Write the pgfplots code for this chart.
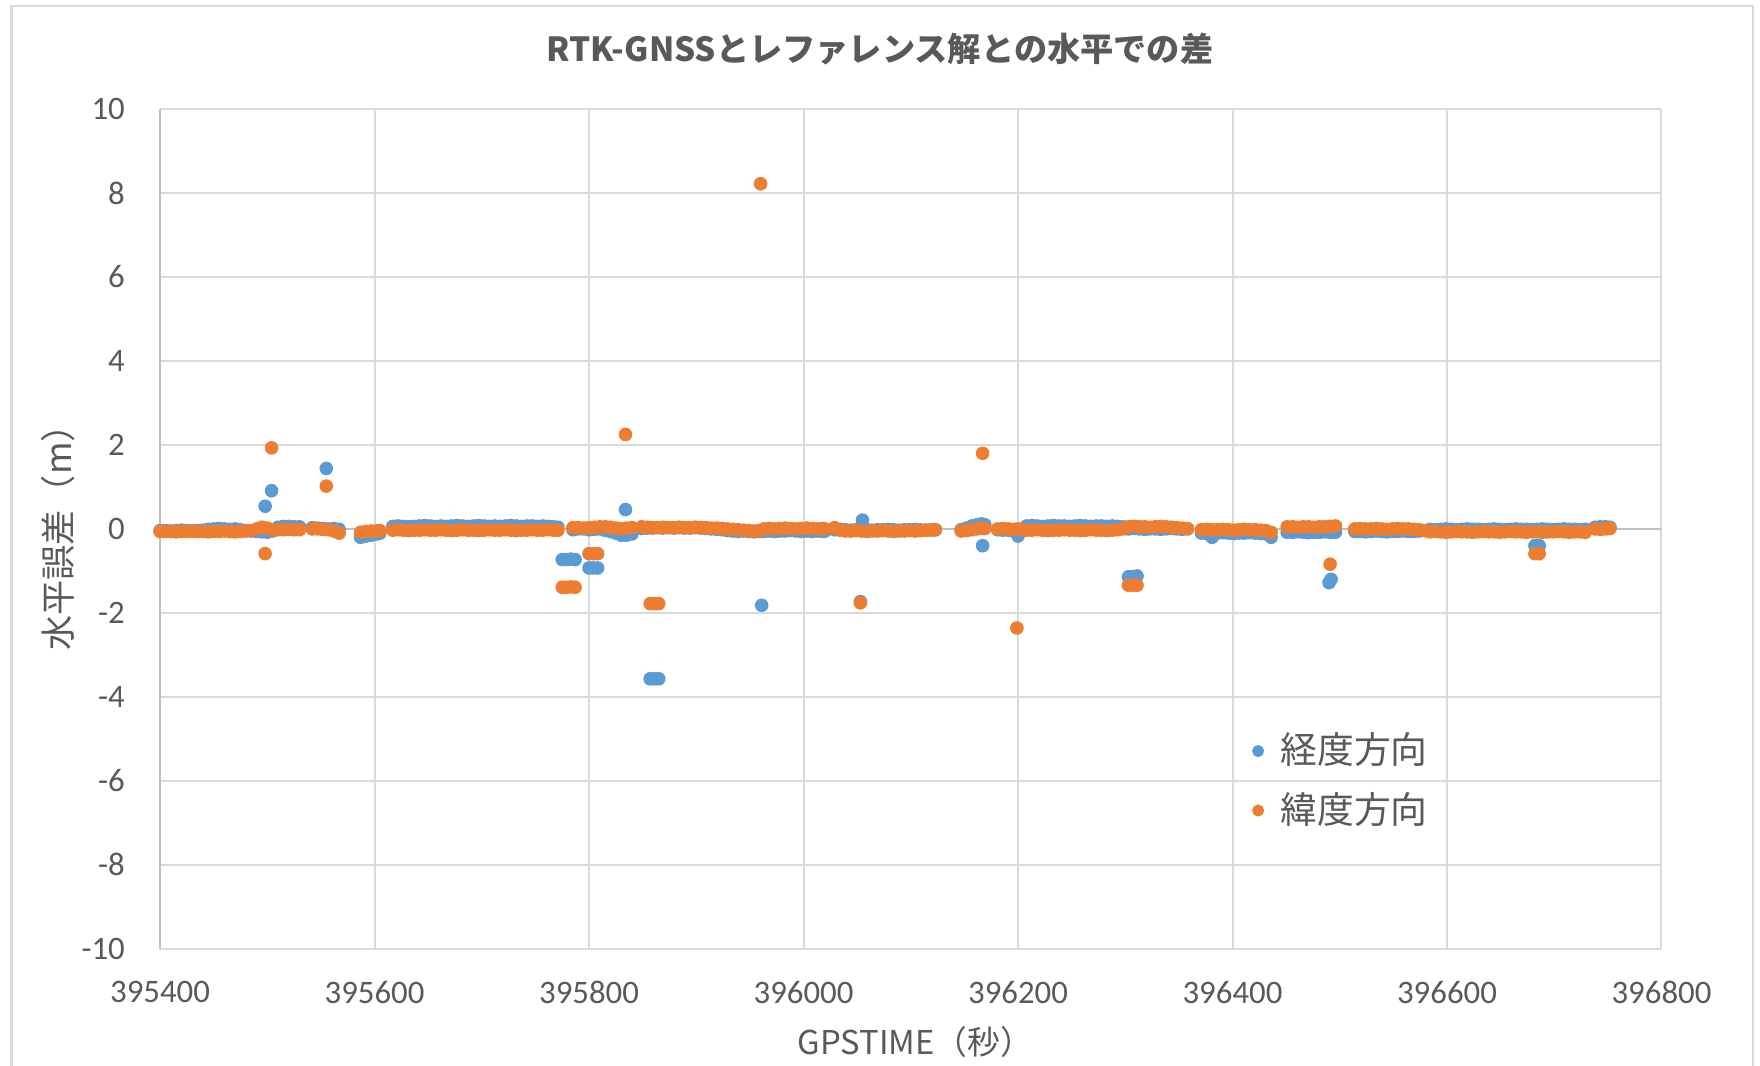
\documentclass[border=0pt]{standalone}
\usepackage{fontspec}
\usepackage{pgfplots}
\pgfplotsset{compat=1.18}
\setmainfont{Carlito}
\newfontfamily\cjk{Noto Sans CJK JP}
\definecolor{sblue}{HTML}{5B9BD5}
\definecolor{sorange}{HTML}{ED7D31}
\definecolor{txt}{HTML}{595959}
\definecolor{gridc}{HTML}{D9D9D9}
\definecolor{axl}{HTML}{BFBFBF}
\begin{document}
\begin{tikzpicture}
\path[use as bounding box] (-40pt,-29.125pt) rectangle (399.875pt,237.125pt);
\draw[gridc, line width=0.6pt] (-37.1pt,-35pt) -- (-37.1pt,235.6pt) -- (398.1pt,235.6pt) -- (398.1pt,-35pt);
\begin{axis}[
  scale only axis,
  width=375.25pt, height=209.875pt,
  at={(0,0)}, anchor=south west,
  xmin=395400, xmax=396800, ymin=-10, ymax=10,
  xtick={395400,395600,395800,396000,396200,396400,396600,396800},
  ytick={-10,-8,-6,-4,-2,0,2,4,6,8,10},
  scaled x ticks=false, scaled y ticks=false,
  /pgf/number format/fixed,
  /pgf/number format/precision=0,
  /pgf/number format/set thousands separator={},
  /pgf/number format/assume math mode=true,
  axis line style={draw=none},
  major tick length=0pt,
  grid=major,
  grid style={color=gridc, line width=0.5pt},
  extra y ticks={0}, extra y tick labels={},
  extra x ticks={395400}, extra x tick labels={},
  extra tick style={grid style={color=axl, line width=0.5pt}},
  tick label style={text=txt, font=\fontsize{8.2}{9}\selectfont},
  yticklabel style={inner sep=0pt, anchor=east, xshift=-8.6pt},
  xticklabel style={inner sep=0pt, anchor=north, yshift=-7.9pt},
  title={\cjk\bfseries RTK-GNSSとレファレンス解との水平での差},
  title style={text=txt, font=\fontsize{8.3}{10}\selectfont, at={(axis description cs:0.4794,1)}, anchor=center, yshift=9pt},
  xlabel={\cjk GPSTIME（秒）},
  xlabel style={text=txt, font=\fontsize{8.2}{10}\selectfont, at={(axis description cs:0.503,0)}, anchor=center, yshift=-23.3pt},
  ylabel={\cjk 水平誤差（m）},
  ylabel style={text=txt, font=\fontsize{8.8}{10}\selectfont, at={(axis description cs:-0.0682,0.5)}, anchor=center},
  legend style={draw=none, fill=none, inner sep=0pt, at={(0.7227,0.268)}, anchor=north west,
    text=txt, font=\cjk\fontsize{9.2}{10}\selectfont, cells={anchor=west}, row sep=1.6pt},
  legend image code/.code={\path (0cm,0cm) (0.1cm+3.4pt,0cm); \draw[mark repeat=2,mark phase=2,#1,mark size=1.3pt] plot coordinates {(0cm,0cm) (0.1cm,0cm) (0.2cm,0cm)};},
]
\addplot[only marks, mark=*, mark size=1.5pt, color=sblue, mark options={draw=none, fill=sblue}] table[row sep=\\] {
x y\\
395400 -0.04\\395405 -0.04\\395410 -0.05\\395415 -0.04\\395420 -0.03\\395425 -0.04\\395430 -0.05\\395435 -0.04\\395440 -0.03\\395445 -0.01\\395450 0.0\\395455 0.01\\395460 0.0\\395465 -0.01\\395470 0.0\\395475 -0.02\\395480 -0.04\\395485 -0.05\\395490 -0.06\\
395495 -0.07\\395500 -0.08\\395505 -0.05\\395498 0.54\\395504 0.91\\
395510 0.04\\395515 0.06\\395520 0.06\\395525 0.05\\395530 0.05\\
395542 0.03\\395547 0.02\\395552 0.01\\395557 0.0\\395562 0.01\\395567 -0.01\\395555 1.44\\
395587 -0.2\\395592 -0.17\\395597 -0.15\\395602 -0.12\\395605 -0.1\\
395617 0.06\\395622 0.07\\395627 0.06\\395632 0.05\\395637 0.06\\395642 0.07\\395647 0.08\\395652 0.07\\395657 0.06\\395662 0.07\\395667 0.06\\395672 0.07\\395677 0.08\\395682 0.07\\395687 0.06\\395692 0.07\\395697 0.08\\395702 0.07\\395707 0.06\\395712 0.07\\395717 0.06\\395722 0.07\\395727 0.08\\395732 0.07\\395737 0.06\\395742 0.07\\395747 0.07\\395752 0.06\\395757 0.07\\395762 0.06\\395767 0.05\\395771 0.04\\
395775 -0.73\\395779 -0.73\\395783 -0.72\\395787 -0.73\\
395785 -0.02\\395790 0.0\\395795 0.0\\395800 -0.02\\395805 -0.01\\395810 0.0\\395815 -0.03\\395820 -0.06\\395825 -0.1\\395830 -0.15\\395835 -0.15\\395840 -0.12\\
395800 -0.93\\395804 -0.93\\395808 -0.93\\395834 0.46\\
395849 0.01\\395854 0.02\\395859 0.02\\395864 0.03\\395869 0.02\\395874 0.03\\395879 0.02\\395884 0.03\\395889 0.02\\395894 0.02\\395899 0.03\\395904 0.02\\395909 0.01\\395914 0.0\\395919 -0.01\\395924 -0.02\\395929 -0.04\\395934 -0.05\\395939 -0.06\\395944 -0.05\\395949 -0.06\\395954 -0.07\\395959 -0.06\\
395857 -3.57\\395861 -3.57\\395865 -3.57\\
395961 -1.82\\
395963 -0.06\\395968 -0.05\\395973 -0.06\\395978 -0.05\\395983 -0.05\\395988 -0.04\\395993 -0.05\\395998 -0.06\\396003 -0.05\\396008 -0.06\\396013 -0.05\\396018 -0.06\\396020 -0.05\\
396029 -0.02\\396034 -0.01\\396039 -0.02\\396044 -0.03\\396049 -0.02\\396054 -0.01\\396059 -0.02\\396064 -0.03\\396069 -0.02\\396074 -0.02\\396079 -0.01\\396084 -0.02\\396089 -0.03\\396094 -0.02\\396099 -0.02\\396104 -0.01\\396109 -0.02\\396114 -0.03\\396119 -0.02\\396123 -0.02\\
396055 0.21\\396053 -1.73\\
396147 -0.02\\396152 0.02\\396157 0.07\\396162 0.1\\396166 0.12\\396169 0.1\\396167 -0.40\\
396181 -0.02\\396186 -0.03\\396191 -0.03\\396196 -0.05\\396200 -0.17\\396202 -0.08\\
396208 0.07\\396213 0.08\\396218 0.07\\396223 0.06\\396228 0.07\\396233 0.08\\396238 0.07\\396243 0.07\\396248 0.06\\396253 0.07\\396258 0.08\\396263 0.07\\396268 0.06\\396273 0.07\\396278 0.07\\396283 0.06\\396288 0.07\\396293 0.06\\396298 0.05\\
396303 0.0\\396308 0.01\\396313 0.0\\396318 -0.01\\396323 0.0\\396328 0.0\\396333 -0.01\\396338 0.0\\396343 0.01\\396348 0.0\\396353 -0.01\\396358 0.0\\
396303 -1.14\\396307 -1.14\\396311 -1.12\\
396371 -0.1\\396376 -0.11\\396381 -0.2\\396386 -0.1\\396391 -0.09\\396396 -0.1\\396401 -0.11\\396406 -0.1\\396411 -0.1\\396416 -0.09\\396421 -0.1\\396426 -0.11\\396431 -0.12\\396436 -0.2\\
396451 -0.08\\396456 -0.08\\396461 -0.07\\396466 -0.08\\396471 -0.09\\396476 -0.08\\396481 -0.08\\396486 -0.07\\396491 -0.08\\396496 -0.08\\
396490 -1.28\\396492 -1.2\\
396514 -0.06\\396519 -0.06\\396524 -0.07\\396529 -0.06\\396534 -0.05\\396539 -0.06\\396544 -0.07\\396549 -0.06\\396554 -0.06\\396559 -0.05\\396564 -0.06\\396569 -0.06\\396574 -0.05\\396579 -0.04\\
396584 -0.01\\396589 -0.02\\396594 -0.01\\396599 0.0\\396604 -0.01\\396609 -0.02\\396614 -0.01\\396619 0.0\\396624 -0.01\\396629 -0.01\\396634 -0.02\\396639 -0.01\\396644 0.0\\396649 -0.01\\396654 -0.02\\396659 -0.01\\396664 0.0\\396669 -0.01\\396674 -0.01\\396679 -0.02\\396684 -0.01\\396689 0.0\\396694 -0.01\\396699 -0.02\\396704 -0.01\\396709 0.0\\396714 -0.01\\396719 -0.01\\396724 -0.02\\396729 -0.01\\
396682 -0.40\\396686 -0.40\\
396738 0.04\\396743 0.05\\396748 0.05\\396752 0.04\\
};
\addlegendentry{経度方向}
\addplot[only marks, mark=*, mark size=1.5pt, color=sorange, mark options={draw=none, fill=sorange}] table[row sep=\\] {
x y\\
395400 -0.06\\395405 -0.06\\395410 -0.06\\395415 -0.07\\395420 -0.06\\395425 -0.06\\395430 -0.05\\395435 -0.06\\395440 -0.06\\395445 -0.07\\395450 -0.06\\395455 -0.06\\395460 -0.05\\395465 -0.06\\395470 -0.07\\395475 -0.06\\395480 -0.05\\395485 -0.04\\
395490 0.0\\395495 0.04\\395500 0.02\\395505 -0.03\\395504 1.93\\395498 -0.59\\
395510 -0.02\\395515 -0.02\\395520 -0.01\\395525 -0.02\\395530 -0.02\\
395542 0.0\\395547 0.0\\395552 -0.01\\395557 -0.02\\395562 -0.05\\395567 -0.1\\395555 1.02\\
395587 -0.08\\395592 -0.06\\395597 -0.05\\395602 -0.05\\395605 -0.04\\
395617 -0.03\\395622 -0.02\\395627 -0.03\\395632 -0.04\\395637 -0.03\\395642 -0.03\\395647 -0.02\\395652 -0.03\\395657 -0.03\\395662 -0.02\\395667 -0.03\\395672 -0.04\\395677 -0.03\\395682 -0.02\\395687 -0.03\\395692 -0.03\\395697 -0.04\\395702 -0.03\\395707 -0.02\\395712 -0.03\\395717 -0.03\\395722 -0.02\\395727 -0.03\\395732 -0.04\\395737 -0.03\\395742 -0.03\\395747 -0.02\\395752 -0.03\\395757 -0.03\\395762 -0.02\\395767 -0.03\\395771 -0.03\\
395775 -1.39\\395779 -1.39\\395783 -1.38\\395787 -1.39\\
395785 0.03\\395790 0.03\\395795 0.02\\395800 0.03\\395805 0.04\\395810 0.05\\395815 0.05\\395820 0.04\\395825 0.02\\395830 0.0\\395835 0.02\\395840 0.03\\
395800 -0.59\\395804 -0.59\\395808 -0.59\\395834 2.25\\
395849 0.05\\395854 0.04\\395859 0.03\\395864 0.03\\395869 0.04\\395874 0.03\\395879 0.03\\395884 0.04\\395889 0.03\\395894 0.03\\395899 0.04\\395904 0.03\\395909 0.03\\395914 0.02\\395919 0.02\\395924 0.01\\395929 0.0\\395934 -0.01\\395939 -0.02\\395944 -0.03\\395949 -0.04\\395954 -0.05\\395959 -0.04\\
395857 -1.78\\395861 -1.78\\395865 -1.78\\
395960 8.22\\
395963 0.0\\395968 0.01\\395973 0.0\\395978 0.01\\395983 0.02\\395988 0.01\\395993 0.0\\395998 0.01\\396003 0.02\\396008 0.01\\396013 0.0\\396018 0.01\\396020 0.0\\
396029 0.03\\396034 -0.03\\396039 -0.05\\396044 -0.05\\396049 -0.04\\396054 -0.05\\396059 -0.06\\396064 -0.05\\396069 -0.05\\396074 -0.04\\396079 -0.05\\396084 -0.06\\396089 -0.05\\396094 -0.05\\396099 -0.04\\396104 -0.05\\396109 -0.04\\396114 -0.03\\396119 -0.03\\396123 -0.02\\
396053 -1.76\\
396147 -0.05\\396152 -0.04\\396157 -0.02\\396162 0.0\\396166 0.02\\396169 0.01\\396167 1.80\\
396181 0.0\\396186 0.01\\396191 0.0\\396196 -0.01\\396200 0.0\\396202 -0.01\\396199 -2.36\\
396208 -0.03\\396213 -0.03\\396218 -0.02\\396223 -0.03\\396228 -0.04\\396233 -0.03\\396238 -0.03\\396243 -0.02\\396248 -0.03\\396253 -0.03\\396258 -0.04\\396263 -0.03\\396268 -0.02\\396273 -0.03\\396278 -0.03\\396283 -0.04\\396288 -0.03\\396293 -0.02\\396298 0.0\\
396303 0.05\\396308 0.06\\396313 0.05\\396318 0.05\\396323 0.04\\396328 0.05\\396333 0.06\\396338 0.05\\396343 0.04\\396348 0.03\\396353 0.02\\396358 0.01\\
396303 -1.34\\396307 -1.34\\396311 -1.34\\
396371 -0.02\\396376 -0.01\\396381 -0.02\\396386 -0.02\\396391 -0.01\\396396 -0.02\\396401 -0.03\\396406 -0.02\\396411 -0.01\\396416 -0.02\\396421 -0.02\\396426 -0.03\\396431 -0.04\\396436 -0.08\\
396451 0.05\\396456 0.05\\396461 0.04\\396466 0.05\\396471 0.05\\396476 0.04\\396481 0.05\\396486 0.05\\396491 0.06\\396496 0.07\\
396491 -0.84\\
396514 0.0\\396519 0.01\\396524 0.0\\396529 0.0\\396534 0.01\\396539 0.0\\396544 -0.01\\396549 0.0\\396554 0.01\\396559 0.0\\396564 0.0\\396569 -0.01\\396574 -0.02\\396579 -0.04\\
396584 -0.07\\396589 -0.06\\396594 -0.07\\396599 -0.08\\396604 -0.07\\396609 -0.06\\396614 -0.07\\396619 -0.07\\396624 -0.08\\396629 -0.07\\396634 -0.06\\396639 -0.07\\396644 -0.07\\396649 -0.08\\396654 -0.07\\396659 -0.06\\396664 -0.07\\396669 -0.07\\396674 -0.08\\396679 -0.07\\396684 -0.07\\396689 -0.08\\396694 -0.07\\396699 -0.07\\396704 -0.06\\396709 -0.07\\396714 -0.08\\396719 -0.07\\396724 -0.07\\396729 -0.08\\
396682 -0.59\\396686 -0.59\\
396738 0.0\\396743 -0.01\\396748 0.0\\396752 0.01\\
};
\addlegendentry{緯度方向}
\end{axis}
\end{tikzpicture}
\end{document}
